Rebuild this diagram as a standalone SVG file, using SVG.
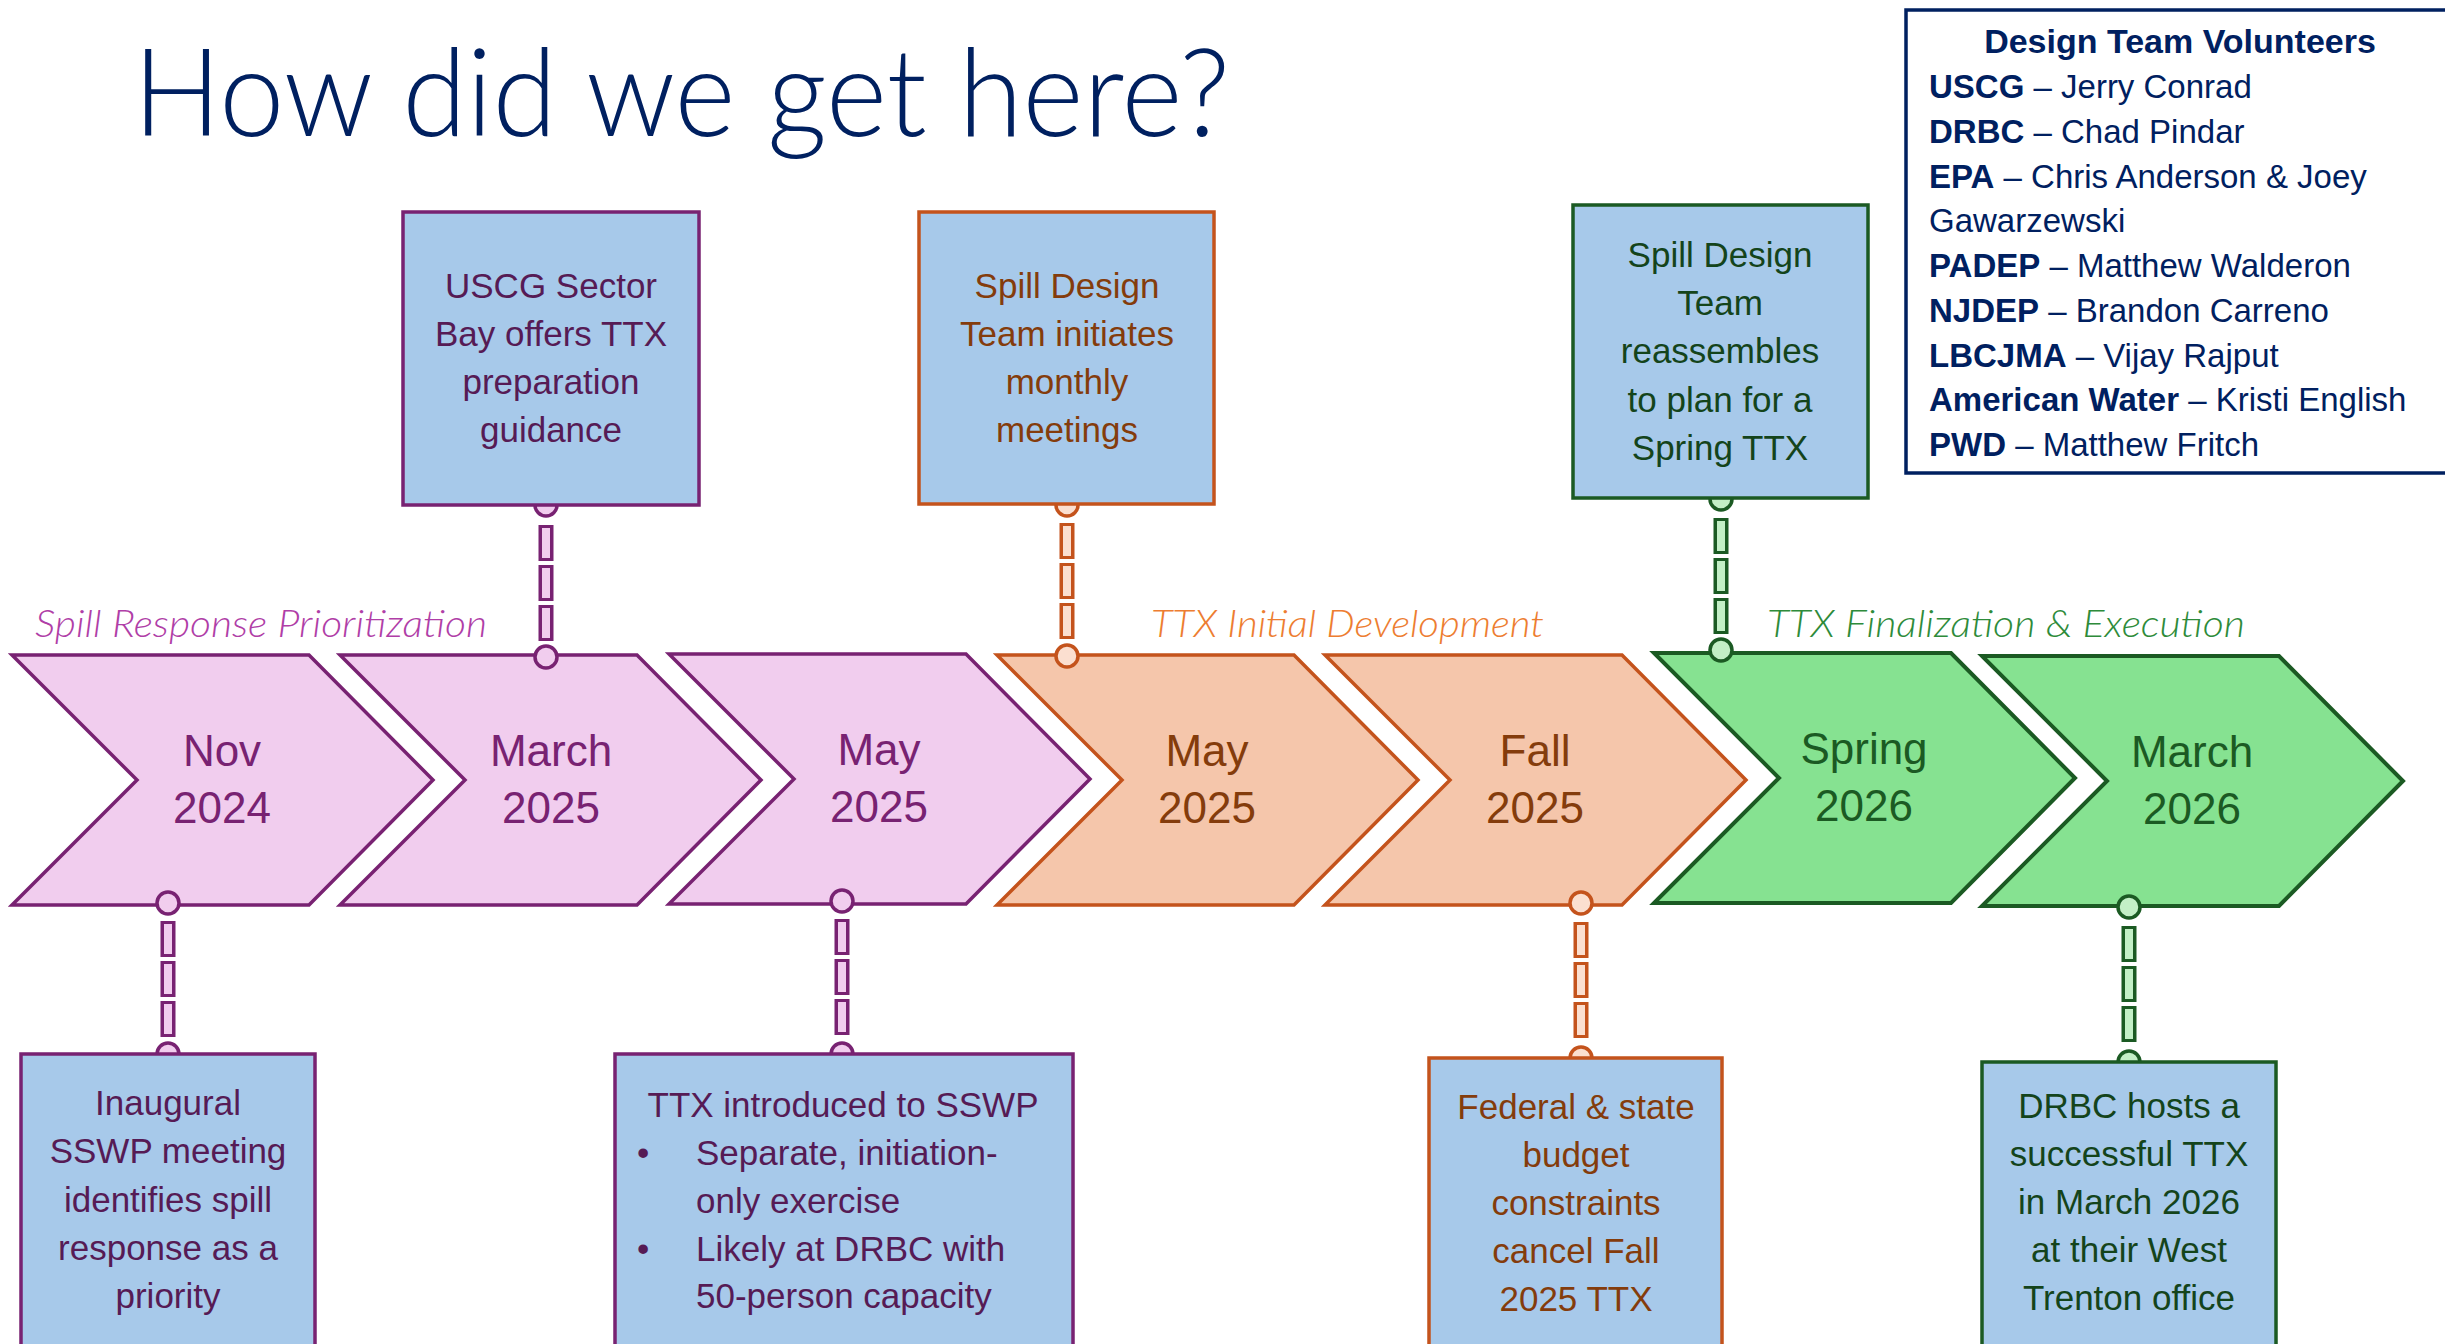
<svg xmlns="http://www.w3.org/2000/svg" width="2445" height="1344" viewBox="0 0 2445 1344">
<style>
.title{font-family:Lato,"Liberation Sans",sans-serif;font-weight:300;font-size:122px;fill:#002060}
.vol{font-family:"Liberation Sans",Arial,sans-serif;font-size:33px;fill:#002060}
.volh{font-family:"Liberation Sans",Arial,sans-serif;font-size:34px;font-weight:bold;fill:#002060}
.b{font-weight:bold}
.sec{font-family:Lato,"Liberation Sans",sans-serif;font-weight:300;font-style:italic;font-size:37px}
.ct{font-family:"Liberation Sans",Arial,sans-serif;font-size:44px;text-anchor:middle}
.bt{font-family:"Liberation Sans",Arial,sans-serif;font-size:35px;text-anchor:middle}
.bl{font-family:"Liberation Sans",Arial,sans-serif;font-size:35px}
.box{fill:#A7C9EA;stroke-width:3.5}
.chP{fill:#F1CDEE;stroke:#782272;stroke-width:3.5;stroke-linejoin:miter}
.chO{fill:#F5C6AB;stroke:#C4531C;stroke-width:3.5}
.chG{fill:#86E291;stroke:#1B5A23;stroke-width:4}
.oP{stroke:#782272;stroke-width:15;stroke-dasharray:36 4}
.iP{stroke:#F1CDEE;stroke-width:8;stroke-dasharray:30 10;stroke-dashoffset:-3}
.oO{stroke:#C4531C;stroke-width:15;stroke-dasharray:36 4}
.iO{stroke:#FBDFD0;stroke-width:8;stroke-dasharray:30 10;stroke-dashoffset:-3}
.oG{stroke:#1B5A23;stroke-width:15;stroke-dasharray:36 4}
.iG{stroke:#C3EFC6;stroke-width:8;stroke-dasharray:30 10;stroke-dashoffset:-3}
.dP{fill:#F1CDEE;stroke:#782272;stroke-width:3.5}
.dO{fill:#FBDFD0;stroke:#C4531C;stroke-width:3.5}
.dG{fill:#C3EFC6;stroke:#1B5A23;stroke-width:3.5}
</style>
<rect x="0" y="0" width="2445" height="1344" fill="#FFFFFF"/>
<text id="title" class="title" x="133" y="136" textLength="1097" lengthAdjust="spacingAndGlyphs">How did we get here?</text>

<g id="volunteers">
<rect x="1906" y="10" width="560" height="463" fill="#FFFFFF" stroke="#002060" stroke-width="3.5"/>
<text class="volh" x="2180" y="53" text-anchor="middle">Design Team Volunteers</text>
<text class="vol" x="1929" y="98"><tspan class="b">USCG</tspan> – Jerry Conrad</text>
<text class="vol" x="1929" y="143"><tspan class="b">DRBC</tspan> – Chad Pindar</text>
<text class="vol" x="1929" y="188"><tspan class="b">EPA</tspan> – Chris Anderson &amp; Joey</text>
<text class="vol" x="1929" y="232">Gawarzewski</text>
<text class="vol" x="1929" y="277"><tspan class="b">PADEP</tspan> – Matthew Walderon</text>
<text class="vol" x="1929" y="322"><tspan class="b">NJDEP</tspan> – Brandon Carreno</text>
<text class="vol" x="1929" y="367"><tspan class="b">LBCJMA</tspan> – Vijay Rajput</text>
<text class="vol" x="1929" y="411"><tspan class="b">American Water</tspan> – Kristi English</text>
<text class="vol" x="1929" y="456"><tspan class="b">PWD</tspan> – Matthew Fritch</text>
</g>

<g id="phase-labels">
<text class="sec" x="35" y="637" fill="#B03EA7" textLength="452" lengthAdjust="spacingAndGlyphs">Spill Response Prioritization</text>
<text class="sec" x="1151" y="637" fill="#ED7D31" textLength="393" lengthAdjust="spacingAndGlyphs">TTX Initial Development</text>
<text class="sec" x="1767" y="637" fill="#2E8B3A" textLength="478" lengthAdjust="spacingAndGlyphs">TTX Finalization &amp; Execution</text>
</g>

<g id="chevron-nov-2024">
<polygon class="chP" points="12,655 309,655 433,780 309,905 12,905 137,780"/>
<text class="ct" x="222" y="766" fill="#782272">Nov</text>
<text class="ct" x="222" y="823" fill="#782272">2024</text>
</g>
<g id="chevron-march-2025">
<polygon class="chP" points="340,655 637,655 761,780 637,905 340,905 465,780"/>
<text class="ct" x="551" y="766" fill="#782272">March</text>
<text class="ct" x="551" y="823" fill="#782272">2025</text>
</g>
<g id="chevron-may-2025-a">
<polygon class="chP" points="669,654 966,654 1090,779 966,904 669,904 794,779"/>
<text class="ct" x="879" y="765" fill="#782272">May</text>
<text class="ct" x="879" y="822" fill="#782272">2025</text>
</g>
<g id="chevron-may-2025-b">
<polygon class="chO" points="997,655 1294,655 1418,780 1294,905 997,905 1122,780"/>
<text class="ct" x="1207" y="766" fill="#843C0C">May</text>
<text class="ct" x="1207" y="823" fill="#843C0C">2025</text>
</g>
<g id="chevron-fall-2025">
<polygon class="chO" points="1325,655 1622,655 1746,780 1622,905 1325,905 1450,780"/>
<text class="ct" x="1535" y="766" fill="#843C0C">Fall</text>
<text class="ct" x="1535" y="823" fill="#843C0C">2025</text>
</g>
<g id="chevron-spring-2026">
<polygon class="chG" points="1654,653 1951,653 2075,778 1951,903 1654,903 1779,778"/>
<text class="ct" x="1864" y="764" fill="#1B5A23">Spring</text>
<text class="ct" x="1864" y="821" fill="#1B5A23">2026</text>
</g>
<g id="chevron-march-2026">
<polygon class="chG" points="1982,656 2279,656 2403,781 2279,906 1982,906 2107,781"/>
<text class="ct" x="2192" y="767" fill="#1B5A23">March</text>
<text class="ct" x="2192" y="824" fill="#1B5A23">2026</text>
</g>

<g id="connectors">
<g id="conn-uscg">
<circle class="dP" cx="546" cy="505" r="11"/>
<line class="oP" x1="546" y1="525" x2="546" y2="644"/>
<line class="iP" x1="546" y1="525" x2="546" y2="644"/>
<circle class="dP" cx="546" cy="657" r="11"/>
</g>
<g id="conn-monthly">
<circle class="dO" cx="1067" cy="505" r="11"/>
<line class="oO" x1="1067" y1="523" x2="1067" y2="640"/>
<line class="iO" x1="1067" y1="523" x2="1067" y2="640"/>
<circle class="dO" cx="1067" cy="656" r="11"/>
</g>
<g id="conn-reassemble">
<circle class="dG" cx="1721" cy="499" r="11"/>
<line class="oG" x1="1721" y1="518" x2="1721" y2="634"/>
<line class="iG" x1="1721" y1="518" x2="1721" y2="634"/>
<circle class="dG" cx="1721" cy="650" r="11"/>
</g>
<g id="conn-inaugural">
<circle class="dP" cx="168" cy="1054" r="11"/>
<line class="oP" x1="168" y1="921" x2="168" y2="1038"/>
<line class="iP" x1="168" y1="921" x2="168" y2="1038"/>
<circle class="dP" cx="168" cy="903" r="11"/>
</g>
<g id="conn-ttx-intro">
<circle class="dP" cx="842" cy="1054" r="11"/>
<line class="oP" x1="842" y1="919" x2="842" y2="1036"/>
<line class="iP" x1="842" y1="919" x2="842" y2="1036"/>
<circle class="dP" cx="842" cy="901" r="11"/>
</g>
<g id="conn-federal">
<circle class="dO" cx="1581" cy="1058" r="11"/>
<line class="oO" x1="1581" y1="922" x2="1581" y2="1039"/>
<line class="iO" x1="1581" y1="922" x2="1581" y2="1039"/>
<circle class="dO" cx="1581" cy="903" r="11"/>
</g>
<g id="conn-drbc">
<circle class="dG" cx="2129" cy="1062" r="11"/>
<line class="oG" x1="2129" y1="926" x2="2129" y2="1043"/>
<line class="iG" x1="2129" y1="926" x2="2129" y2="1043"/>
<circle class="dG" cx="2129" cy="907" r="11"/>
</g>
</g>

<g id="box-uscg-guidance">
<rect class="box" x="403" y="212" width="296" height="293" stroke="#782272"/>
<text class="bt" fill="#561B55"><tspan x="551" y="298">USCG Sector</tspan><tspan x="551" y="346">Bay offers TTX</tspan><tspan x="551" y="394">preparation</tspan><tspan x="551" y="442">guidance</tspan></text>
</g>
<g id="box-monthly-meetings">
<rect class="box" x="919" y="212" width="295" height="292" stroke="#C4531C"/>
<text class="bt" fill="#843C0C"><tspan x="1067" y="298">Spill Design</tspan><tspan x="1067" y="346">Team initiates</tspan><tspan x="1067" y="394">monthly</tspan><tspan x="1067" y="442">meetings</tspan></text>
</g>
<g id="box-reassembles">
<rect class="box" x="1573" y="205" width="295" height="293" stroke="#1B5A23" stroke-width="4"/>
<text class="bt" fill="#14441B"><tspan x="1720" y="267">Spill Design</tspan><tspan x="1720" y="315">Team</tspan><tspan x="1720" y="363">reassembles</tspan><tspan x="1720" y="412">to plan for a</tspan><tspan x="1720" y="460">Spring TTX</tspan></text>
</g>
<g id="box-inaugural">
<rect class="box" x="21" y="1054" width="294" height="310" stroke="#782272"/>
<text class="bt" fill="#561B55"><tspan x="168" y="1115">Inaugural</tspan><tspan x="168" y="1163">SSWP meeting</tspan><tspan x="168" y="1212">identifies spill</tspan><tspan x="168" y="1260">response as a</tspan><tspan x="168" y="1308">priority</tspan></text>
</g>
<g id="box-ttx-introduced">
<rect class="box" x="615" y="1054" width="458" height="310" stroke="#782272"/>
<text class="bt" fill="#561B55" x="843" y="1117">TTX introduced to SSWP</text>
<text class="bl" fill="#561B55" x="637" y="1165">•</text>
<text class="bl" fill="#561B55" x="696" y="1165">Separate, initiation-</text>
<text class="bl" fill="#561B55" x="696" y="1213">only exercise</text>
<text class="bl" fill="#561B55" x="637" y="1261">•</text>
<text class="bl" fill="#561B55" x="696" y="1261">Likely at DRBC with</text>
<text class="bl" fill="#561B55" x="696" y="1308">50-person capacity</text>
</g>
<g id="box-budget">
<rect class="box" x="1429" y="1058" width="293" height="306" stroke="#C4531C"/>
<text class="bt" fill="#843C0C"><tspan x="1576" y="1119">Federal &amp; state</tspan><tspan x="1576" y="1167">budget</tspan><tspan x="1576" y="1215">constraints</tspan><tspan x="1576" y="1263">cancel Fall</tspan><tspan x="1576" y="1311">2025 TTX</tspan></text>
</g>
<g id="box-drbc-hosts">
<rect class="box" x="1982" y="1062" width="294" height="302" stroke="#1B5A23" stroke-width="4"/>
<text class="bt" fill="#14441B"><tspan x="2129" y="1118">DRBC hosts a</tspan><tspan x="2129" y="1166">successful TTX</tspan><tspan x="2129" y="1214">in March 2026</tspan><tspan x="2129" y="1262">at their West</tspan><tspan x="2129" y="1310">Trenton office</tspan></text>
</g>
</svg>
